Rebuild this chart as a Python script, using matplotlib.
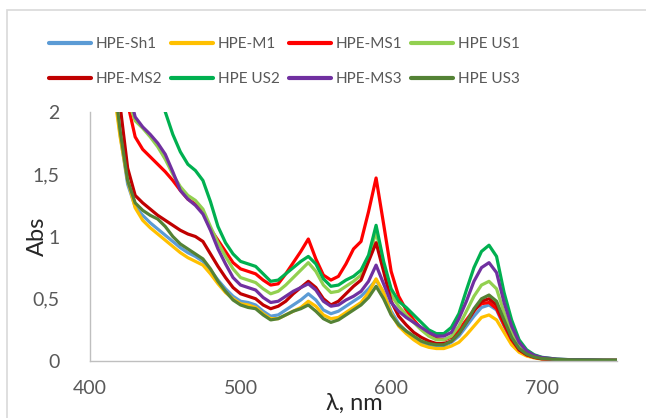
import matplotlib
matplotlib.use("Agg")
import matplotlib.pyplot as plt
from matplotlib.patches import Rectangle

plt.rcParams['font.family'] = ['Lato', 'DejaVu Sans']

# ------------------------------------------------------------
# data
# ------------------------------------------------------------
wavelength = [410, 415, 420, 425, 430, 435, 440, 445, 450, 455,
              460, 465, 470, 475, 480, 485, 490, 495, 500, 505,
              510, 515, 520, 525, 530, 535, 540, 545, 550, 555,
              560, 565, 570, 575, 580, 585, 590, 595, 600, 605,
              610, 615, 620, 625, 630, 635, 640, 645, 650, 655,
              660, 665, 670, 675, 680, 685, 690, 695, 700, 710,
              720, 730, 740, 750]

hpe_sh1 = [2.65, 2.30, 1.82, 1.42, 1.24, 1.17, 1.11, 1.06, 1.01, 0.96,
           0.91, 0.87, 0.84, 0.80, 0.73, 0.65, 0.58, 0.52, 0.48, 0.47,
           0.45, 0.40, 0.36, 0.37, 0.41, 0.45, 0.49, 0.54, 0.49, 0.41,
           0.38, 0.40, 0.44, 0.48, 0.52, 0.58, 0.65, 0.55, 0.40, 0.30,
           0.24, 0.19, 0.15, 0.13, 0.12, 0.12, 0.15, 0.20, 0.28, 0.36,
           0.43, 0.45, 0.41, 0.28, 0.16, 0.08, 0.045, 0.027, 0.017, 0.010,
           0.008, 0.006, 0.005, 0.005]

hpe_m1 = [2.60, 2.25, 1.80, 1.45, 1.23, 1.13, 1.07, 1.02, 0.97, 0.92,
          0.87, 0.83, 0.80, 0.77, 0.70, 0.62, 0.55, 0.50, 0.46, 0.45,
          0.43, 0.38, 0.34, 0.34, 0.37, 0.40, 0.43, 0.48, 0.44, 0.37,
          0.34, 0.35, 0.39, 0.43, 0.47, 0.55, 0.66, 0.55, 0.38, 0.28,
          0.22, 0.17, 0.13, 0.11, 0.10, 0.10, 0.12, 0.15, 0.21, 0.28,
          0.35, 0.37, 0.33, 0.23, 0.13, 0.07, 0.04, 0.025, 0.015, 0.010,
          0.008, 0.006, 0.005, 0.005]

hpe_ms1 = [2.90, 2.60, 2.30, 2.07, 1.80, 1.70, 1.64, 1.58, 1.52, 1.45,
           1.37, 1.30, 1.26, 1.20, 1.06, 0.97, 0.88, 0.79, 0.74, 0.72,
           0.70, 0.65, 0.61, 0.62, 0.70, 0.79, 0.88, 0.98, 0.82, 0.69,
           0.65, 0.68, 0.78, 0.90, 0.96, 1.20, 1.47, 1.10, 0.72, 0.52,
           0.41, 0.33, 0.26, 0.21, 0.18, 0.17, 0.19, 0.25, 0.33, 0.41,
           0.46, 0.47, 0.42, 0.29, 0.17, 0.09, 0.05, 0.03, 0.018, 0.010,
           0.008, 0.006, 0.005, 0.005]

hpe_us1 = [3.00, 2.70, 2.35, 2.10, 1.93, 1.87, 1.80, 1.72, 1.62, 1.50,
           1.40, 1.33, 1.29, 1.22, 1.08, 0.95, 0.84, 0.74, 0.67, 0.65,
           0.63, 0.58, 0.54, 0.56, 0.61, 0.67, 0.73, 0.79, 0.72, 0.61,
           0.55, 0.56, 0.60, 0.64, 0.69, 0.82, 1.04, 0.76, 0.53, 0.44,
           0.37, 0.31, 0.25, 0.20, 0.17, 0.17, 0.20, 0.28, 0.40, 0.52,
           0.61, 0.64, 0.58, 0.39, 0.23, 0.12, 0.065, 0.04, 0.025, 0.013,
           0.009, 0.007, 0.006, 0.005]

hpe_ms2 = [2.80, 2.45, 2.05, 1.55, 1.33, 1.27, 1.22, 1.17, 1.13, 1.09,
           1.05, 1.02, 1.00, 0.96, 0.86, 0.76, 0.67, 0.59, 0.54, 0.52,
           0.50, 0.45, 0.42, 0.44, 0.48, 0.54, 0.59, 0.64, 0.59, 0.50,
           0.45, 0.48, 0.54, 0.60, 0.65, 0.80, 0.95, 0.72, 0.48, 0.36,
           0.29, 0.23, 0.19, 0.16, 0.14, 0.14, 0.16, 0.22, 0.31, 0.40,
           0.48, 0.50, 0.45, 0.31, 0.18, 0.09, 0.05, 0.03, 0.018, 0.010,
           0.008, 0.006, 0.005, 0.005]

hpe_us2 = [3.20, 3.05, 2.90, 2.75, 2.60, 2.47, 2.35, 2.20, 2.00, 1.82,
           1.68, 1.58, 1.53, 1.45, 1.28, 1.08, 0.95, 0.86, 0.80, 0.78,
           0.76, 0.70, 0.64, 0.65, 0.70, 0.75, 0.80, 0.84, 0.78, 0.66,
           0.60, 0.61, 0.65, 0.68, 0.73, 0.85, 1.09, 0.80, 0.58, 0.48,
           0.43, 0.37, 0.31, 0.25, 0.22, 0.22, 0.27, 0.38, 0.57, 0.75,
           0.88, 0.93, 0.84, 0.55, 0.33, 0.17, 0.09, 0.05, 0.03, 0.015,
           0.010, 0.008, 0.006, 0.005]

hpe_ms3 = [3.00, 2.70, 2.40, 2.20, 1.96, 1.88, 1.82, 1.75, 1.66, 1.52,
           1.37, 1.30, 1.25, 1.18, 1.05, 0.90, 0.78, 0.67, 0.61, 0.59,
           0.57, 0.51, 0.47, 0.48, 0.52, 0.56, 0.59, 0.62, 0.57, 0.48,
           0.44, 0.45, 0.49, 0.52, 0.56, 0.64, 0.77, 0.62, 0.47, 0.40,
           0.35, 0.31, 0.27, 0.23, 0.20, 0.20, 0.23, 0.34, 0.48, 0.64,
           0.75, 0.79, 0.71, 0.47, 0.28, 0.15, 0.08, 0.045, 0.028, 0.015,
           0.010, 0.008, 0.006, 0.005]

hpe_us3 = [2.70, 2.35, 1.85, 1.45, 1.27, 1.21, 1.17, 1.14, 1.08, 1.00,
           0.94, 0.90, 0.86, 0.82, 0.74, 0.64, 0.56, 0.49, 0.45, 0.43,
           0.42, 0.37, 0.33, 0.34, 0.37, 0.40, 0.42, 0.45, 0.40, 0.34,
           0.31, 0.33, 0.37, 0.41, 0.45, 0.51, 0.60, 0.50, 0.37, 0.29,
           0.24, 0.20, 0.16, 0.14, 0.13, 0.13, 0.16, 0.22, 0.31, 0.42,
           0.50, 0.53, 0.48, 0.33, 0.19, 0.10, 0.055, 0.032, 0.020, 0.012,
           0.009, 0.007, 0.006, 0.006]

series_names = ["HPE-Sh1", "HPE-M1", "HPE-MS1", "HPE US1",
                "HPE-MS2", "HPE US2", "HPE-MS3", "HPE US3"]
series_values = [hpe_sh1, hpe_m1, hpe_ms1, hpe_us1,
                 hpe_ms2, hpe_us2, hpe_ms3, hpe_us3]
series_colors = ["#5B9BD5", "#FFC000", "#FF0000", "#92D050",
                 "#C00000", "#00B050", "#7030A0", "#548235"]

x_ticks = [400, 500, 600, 700]
y_ticks = [0, 0.5, 1, 1.5, 2]
y_tick_labels = ["0", "0,5", "1", "1,5", "2"]

# ------------------------------------------------------------
# figure
# ------------------------------------------------------------
fig = plt.figure(figsize=(6.46, 4.18), dpi=100)
ax = fig.add_axes([90 / 646, 1 - 361 / 418, (617 - 90) / 646, (361 - 112) / 418])

lines = []
for name, vals, col in zip(series_names, series_values, series_colors):
    ln, = ax.plot(wavelength, vals, color=col, linewidth=2.3, label=name,
                  solid_capstyle='round', solid_joinstyle='round')
    lines.append(ln)

ax.set_xlim(400, 750)
ax.set_ylim(0, 2)
ax.set_xticks(x_ticks)
ax.set_yticks(y_ticks)
ax.set_yticklabels(y_tick_labels)
ax.tick_params(length=0, labelsize=14, labelcolor='#595959')
ax.tick_params(axis='y', pad=22)
ax.tick_params(axis='x', pad=14)

for side in ['top', 'right']:
    ax.spines[side].set_visible(False)
for side in ['left', 'bottom']:
    ax.spines[side].set_color('#BFBFBF')
    ax.spines[side].set_linewidth(1)

fig.text(37 / 646, 1 - 236 / 418, "Abs", rotation=90, fontsize=17,
         ha='center', va='center', color='#262626')
fig.text(354 / 646, 1 - 403 / 418, "λ, nm", fontsize=17,
         ha='center', va='center', color='#262626')

# legend filled row by row (matplotlib fills columns first)
order = [0, 4, 1, 5, 2, 6, 3, 7]
leg = fig.legend([lines[i] for i in order], [series_names[i] for i in order],
                 loc='upper left', bbox_to_anchor=(49 / 646, 1 - 37 / 418),
                 ncol=4, frameon=False, fontsize=11, handlelength=2.75,
                 handletextpad=0.3, columnspacing=0.6, labelspacing=1.4,
                 borderpad=0, borderaxespad=0)
for t in leg.get_texts():
    t.set_color('#595959')
for h in leg.get_lines():
    h.set_linewidth(3)

# light chart border
fig.patches.append(Rectangle((7 / 646, -0.1), 1.0, 1.1 - 10 / 418,
                             transform=fig.transFigure, fill=False,
                             edgecolor='#D9D9D9', linewidth=1.2))

fig.savefig("out.png", dpi=100)
